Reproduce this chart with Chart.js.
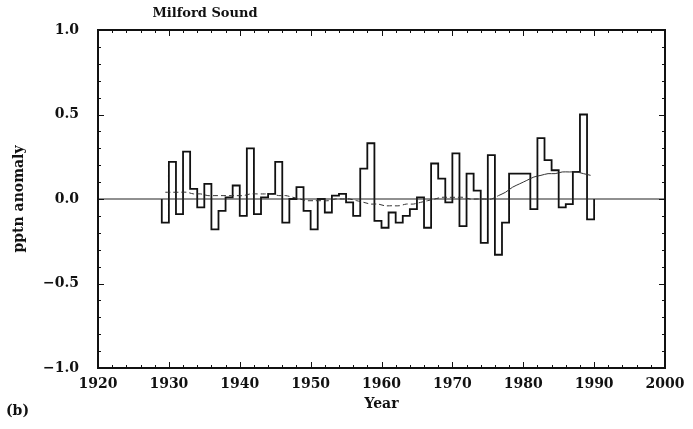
<!DOCTYPE html>
<html>
<head>
<meta charset="utf-8">
<script src="https://cdn.jsdelivr.net/npm/chart.js@4.4.0/dist/chart.umd.min.js"></script>
<style>
  html, body { margin: 0; padding: 0; background: #fff; }
  canvas { display: block; }
</style>
</head>
<body>
<canvas id="chart" width="693" height="429"></canvas>
<script>
// Annual precipitation anomaly, Milford Sound
const years = [
  1929, 1930, 1931, 1932, 1933, 1934, 1935, 1936, 1937, 1938,
  1939, 1940, 1941, 1942, 1943, 1944, 1945, 1946, 1947, 1948,
  1949, 1950, 1951, 1952, 1953, 1954, 1955, 1956, 1957, 1958,
  1959, 1960, 1961, 1962, 1963, 1964, 1965, 1966, 1967, 1968,
  1969, 1970, 1971, 1972, 1973, 1974, 1975, 1976, 1977, 1978,
  1979, 1980, 1981, 1982, 1983, 1984, 1985, 1986, 1987, 1988,
  1989,
];
const endYear = 1990;

const anomaly = [
  -0.14, 0.22, -0.09, 0.28, 0.06, -0.05, 0.09, -0.18, -0.07, 0.01,
  0.08, -0.10, 0.30, -0.09, 0.01, 0.03, 0.22, -0.14, 0.00, 0.07,
  -0.07, -0.18, 0.00, -0.08, 0.02, 0.03, -0.02, -0.10, 0.18, 0.33,
  -0.13, -0.17, -0.08, -0.14, -0.10, -0.06, 0.01, -0.17, 0.21, 0.12,
  -0.02, 0.27, -0.16, 0.15, 0.05, -0.26, 0.26, -0.33, -0.14, 0.15,
  0.15, 0.15, -0.06, 0.36, 0.23, 0.17, -0.05, -0.03, 0.16, 0.50,
  -0.12,
];

// low-pass filtered curve (dashed)
const smooth = [
  0.04, 0.04, 0.04, 0.04, 0.03, 0.03, 0.02, 0.02, 0.02, 0.02,
  0.02, 0.02, 0.03, 0.03, 0.03, 0.03, 0.02, 0.02, 0.01, 0.00,
  -0.01, -0.01, -0.01, -0.01, 0.00, 0.00, 0.00, -0.01, -0.02, -0.03,
  -0.03, -0.04, -0.04, -0.04, -0.03, -0.03, -0.02, -0.01, 0.00, 0.01,
  0.01, 0.01, 0.01, 0.00, 0.00, 0.00, 0.00, 0.02, 0.04, 0.07,
  0.09, 0.11, 0.13, 0.14, 0.15, 0.15, 0.16, 0.16, 0.16, 0.15,
  0.14,
];

const xTicks = [1920, 1930, 1940, 1950, 1960, 1970, 1980, 1990, 2000];
const yTicks = [-1.0, -0.5, 0.0, 0.5, 1.0];

const FONT = "'DejaVu Serif', 'Liberation Serif', serif";

// step line: start and end on the zero line
const stepData = [{ x: years[0], y: 0 }];
years.forEach((yr, i) => stepData.push({ x: yr, y: anomaly[i] }));
stepData.push({ x: endYear, y: 0 });

const smoothData = years.map((yr, i) => ({ x: yr + 0.5, y: smooth[i] }));

// frame, inward ticks and loose labels
const framePlugin = {
  id: "frame",
  afterDatasetsDraw(chart) {
    const { ctx, chartArea: a, scales } = chart;
    const x = scales.x, y = scales.y;
    ctx.save();
    ctx.strokeStyle = "#111";
    ctx.lineWidth = 1;
    ctx.beginPath();
    for (let v = 1920; v <= 2000; v += 2) {
      const px = Math.round(x.getPixelForValue(v)) + 0.5;
      const len = v % 10 === 0 ? 6 : 3;
      ctx.moveTo(px, a.bottom); ctx.lineTo(px, a.bottom - len);
      ctx.moveTo(px, a.top); ctx.lineTo(px, a.top + len);
    }
    for (let k = -10; k <= 10; k++) {
      const py = Math.round(y.getPixelForValue(k / 10)) + 0.5;
      const len = k % 5 === 0 ? 6 : 3;
      ctx.moveTo(a.left, py); ctx.lineTo(a.left + len, py);
      ctx.moveTo(a.right, py); ctx.lineTo(a.right - len, py);
    }
    ctx.stroke();
    ctx.lineWidth = 2;
    ctx.strokeRect(a.left, a.top, a.right - a.left, a.bottom - a.top);

    ctx.fillStyle = "#111";
    ctx.font = "bold 13px " + FONT;
    ctx.textAlign = "center";
    ctx.textBaseline = "middle";
    ctx.fillText("Milford Sound", 205, 14);
    ctx.textAlign = "left";
    ctx.font = "bold 14px " + FONT;
    ctx.fillText("(b)", 6, 411);
    ctx.restore();
  },
};

new Chart(document.getElementById("chart"), {
  type: "line",
  data: {
    datasets: [
      {
        label: "zero",
        data: [{ x: 1920, y: 0 }, { x: 2000, y: 0 }],
        borderColor: "#222",
        borderWidth: 1.2,
        pointRadius: 0,
      },
      {
        label: "smooth",
        data: smoothData,
        borderColor: "#333",
        borderWidth: 1,
        pointRadius: 0,
        tension: 0.3,
        segment: {
          borderDash: (c) => (c.p0.parsed.x < 1976 ? [5, 3] : undefined),
        },
      },
      {
        label: "anomaly",
        data: stepData,
        borderColor: "#111",
        borderWidth: 1.8,
        pointRadius: 0,
        stepped: "before",
      },
    ],
  },
  options: {
    responsive: false,
    animation: false,
    layout: { padding: { left: 0, top: 30, right: 28, bottom: 0 } },
    plugins: {
      legend: { display: false },
      tooltip: { enabled: false },
    },
    scales: {
      x: {
        type: "linear",
        min: 1920,
        max: 2000,
        afterFit: (s) => { s.height = 61; },
        afterBuildTicks: (s) => { s.ticks = xTicks.map((v) => ({ value: v })); },
        grid: { display: false, drawTicks: false, tickLength: 0 },
        border: { display: false },
        ticks: {
          padding: 8,
          color: "#111",
          maxRotation: 0,
          font: { family: FONT, size: 14, weight: "bold" },
          callback: (v) => String(v),
        },
        title: {
          display: true,
          text: "Year",
          color: "#111",
          font: { family: FONT, size: 14, weight: "bold" },
          padding: { top: 0, bottom: 16 },
        },
      },
      y: {
        type: "linear",
        min: -1,
        max: 1,
        afterFit: (s) => { s.width = 98; },
        afterBuildTicks: (s) => { s.ticks = yTicks.map((v) => ({ value: v })); },
        grid: { display: false, drawTicks: false, tickLength: 0 },
        border: { display: false },
        ticks: {
          padding: 19,
          color: "#111",
          font: { family: FONT, size: 14, weight: "bold" },
          callback: (v) => (v < 0 ? "\u2212" + Math.abs(v).toFixed(1) : v.toFixed(1)),
        },
        title: {
          display: true,
          text: "pptn anomaly",
          color: "#111",
          font: { family: FONT, size: 14, weight: "bold" },
          padding: { top: 11, bottom: 0 },
        },
      },
    },
  },
  plugins: [framePlugin],
});
</script>
</body>
</html>
